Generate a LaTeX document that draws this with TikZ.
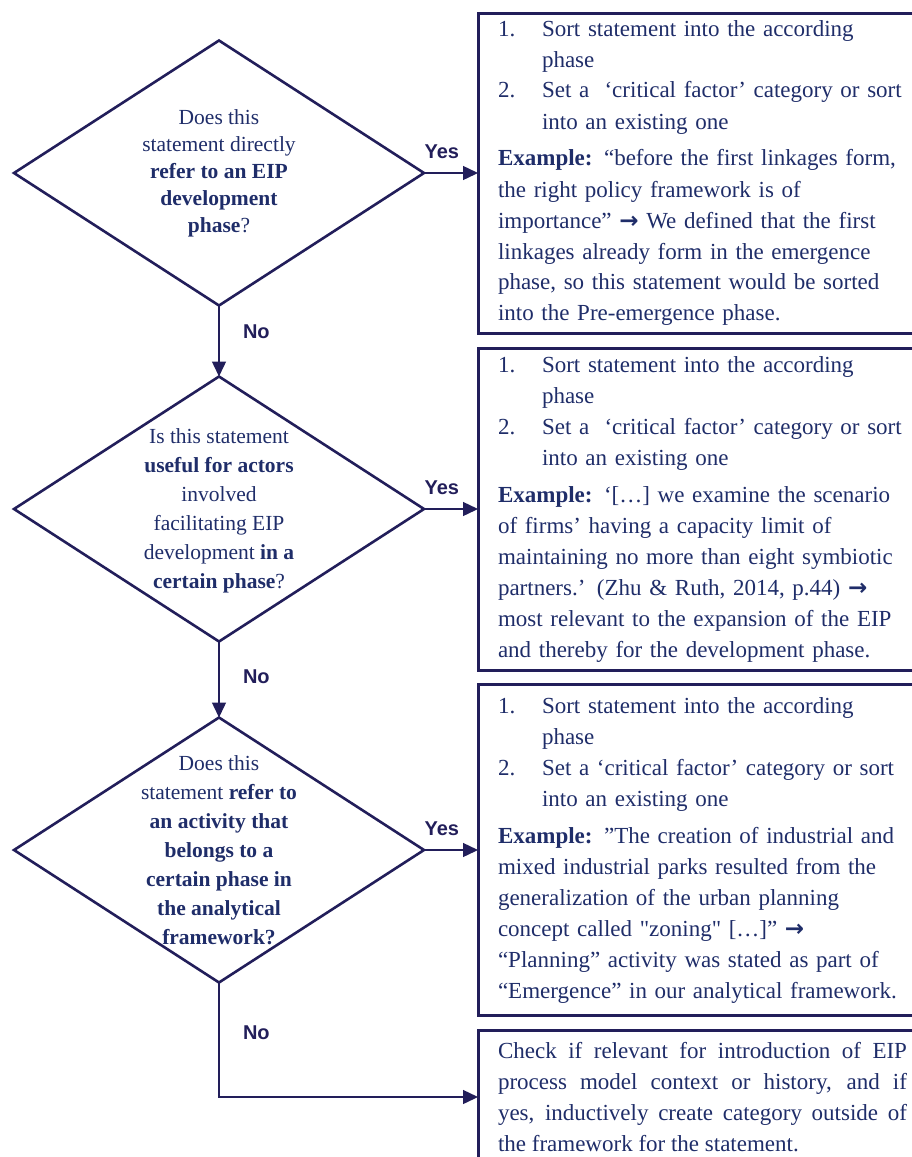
\documentclass[tikz,border=0pt]{standalone}
\usepackage{fontspec}
\setmainfont{Liberation Serif}[Ligatures=TeXOff]
\setsansfont{Liberation Sans}
\newfontfamily\arrowfont{DejaVu Sans}
\usetikzlibrary{shapes.geometric, arrows.meta}

\definecolor{navyline}{RGB}{34,30,90}
\definecolor{navytext}{RGB}{31,45,105}

\begin{document}
\begin{tikzpicture}[
    x=1pt, y=-1pt,
    decision/.style={draw=navyline, diamond, line width=2.6pt, minimum width=410pt, minimum height=265pt, inner sep=0pt, outer sep=0pt},
    question/.style={align=center, text=navytext, font=\fontsize{21.5}{29}\selectfont},
    stepbox/.style={draw=navyline, rectangle, line width=3pt, anchor=west, outer sep=0pt, text width=409pt, inner xsep=20pt, inner ysep=0pt, align=left, text=navytext, font=\fontsize{23}{31}\selectfont},
    answer/.style={font=\sffamily\bfseries\fontsize{20}{24}\selectfont, text=navyline},
    arrow/.style={-{Triangle[length=15pt, width=14pt]}, line width=1.4pt, navyline}
]
    \useasboundingbox (0,0) rectangle (912,1157);
    \clip (0,0) rectangle (912,1157);

    % Questions
    \node[decision] (direct) at (219, 173) {};
    \node[question, font=\fontsize{21.5}{27}\selectfont] (directq) at (direct) {Does this\\statement directly\\\textbf{refer to an EIP}\\\textbf{development}\\\textbf{phase}?};

    \node[decision] (useful) at (219, 509) {};
    \node[question] (usefulq) at ([yshift=-2pt]useful) {Is this statement\\\textbf{useful for actors}\\involved\\facilitating EIP\\development \textbf{in a}\\\textbf{certain phase}?};

    \node[decision] (activity) at (219, 850) {};
    \node[question] (activityq) at (activity) {Does this\\statement \textbf{refer to}\\\textbf{an activity that}\\\textbf{belongs to a}\\\textbf{certain phase in}\\\textbf{the analytical}\\\textbf{framework?}};

    % Sorting instructions
    \node[stepbox, minimum height=320pt] (directsort) at (478, 173) {\makebox[44pt][l]{1.}Sort statement into the according\\
        \hspace*{44pt}phase\\
        \makebox[44pt][l]{2.}Set a \ ‘critical factor’ category or sort\\
        \hspace*{44pt}into an existing one\\[6pt]
        \textbf{Example:} “before the first linkages form,\\
        the right policy framework is of\\
        importance” {\arrowfont\bfseries →} We defined that the first\\
        linkages already form in the emergence\\
        phase, so this statement would be sorted\\
        into the Pre-emergence phase.};

    \node[stepbox, minimum height=322pt] (usefulsort) at (478, 509) {\makebox[44pt][l]{1.}Sort statement into the according\\
        \hspace*{44pt}phase\\
        \makebox[44pt][l]{2.}Set a \ ‘critical factor’ category or sort\\
        \hspace*{44pt}into an existing one\\[6pt]
        \textbf{Example:} ‘[…] we examine the scenario\\
        of firms’ having a capacity limit of\\
        maintaining no more than eight symbiotic\\
        partners.’ (Zhu \& Ruth, 2014, p.44) {\arrowfont\bfseries →}\\
        most relevant to the expansion of the EIP\\
        and thereby for the development phase.};

    \node[stepbox, minimum height=331pt] (activitysort) at (478, 850) {\makebox[44pt][l]{1.}Sort statement into the according\\
        \hspace*{44pt}phase\\
        \makebox[44pt][l]{2.}Set a ‘critical factor’ category or sort\\
        \hspace*{44pt}into an existing one\\[6pt]
        \textbf{Example:} ”The creation of industrial and\\
        mixed industrial parks resulted from the\\
        generalization of the urban planning\\
        concept called "zoning" […]” {\arrowfont\bfseries →}\\
        “Planning” activity was stated as part of\\
        “Emergence” in our analytical framework.};

    \node[stepbox, minimum height=134pt, align=justify] (outside) at (478, 1097) {\tolerance=9999 Check if relevant for introduction of EIP\linebreak
        process model context or history, and if\linebreak
        yes, inductively create category outside of\linebreak
        the framework for the statement.};

    % Yes branches
    \draw[arrow] (direct.east) -- node[answer, above=10pt, pos=0.33] (yes1) {Yes} (directsort.west);
    \draw[arrow] (useful.east) -- node[answer, above=10pt, pos=0.33] (yes2) {Yes} (usefulsort.west);
    \draw[arrow] (activity.east) -- node[answer, above=10pt, pos=0.33] (yes3) {Yes} (activitysort.west);

    % No branches
    \draw[arrow] (direct.south) -- node[answer, right=20pt, pos=0.37] (no1) {No} (useful.north);
    \draw[arrow] (useful.south) -- node[answer, right=20pt, pos=0.46] (no2) {No} (activity.north);
    \draw[arrow] (activity.south) |- node[answer, right=20pt, pos=0.22] (no3) {No} (outside.west);

\end{tikzpicture}
\end{document}
